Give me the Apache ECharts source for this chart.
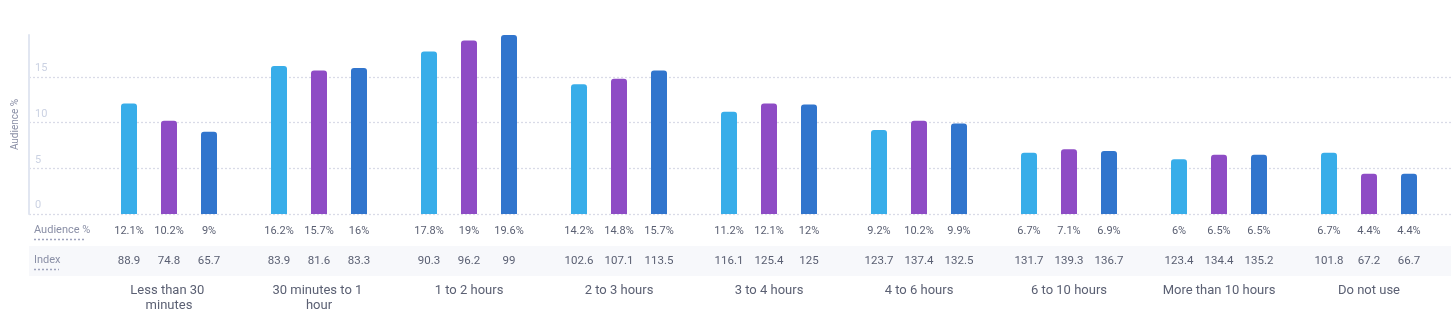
<!DOCTYPE html>
<html><head><meta charset="utf-8">
<style>html,body{margin:0;padding:0;background:#fff}#c{width:1451px;height:326px}</style>
<script src="https://cdn.jsdelivr.net/npm/echarts@6/dist/echarts.min.js"></script>
</head><body><div id="c"></div>
<script>
const categories = ['Less than 30 minutes','30 minutes to 1 hour','1 to 2 hours','2 to 3 hours','3 to 4 hours','4 to 6 hours','6 to 10 hours','More than 10 hours','Do not use'];
const audienceA = [12.1,16.2,17.8,14.2,11.2,9.2,6.7,6,6.7];
const audienceB = [10.2,15.7,19,14.8,12.1,10.2,7.1,6.5,4.4];
const audienceC = [9,16,19.6,15.7,12,9.9,6.9,6.5,4.4];
const indexA = [88.9,83.9,90.3,102.6,116.1,123.7,131.7,123.4,101.8];
const indexB = [74.8,81.6,96.2,107.1,125.4,137.4,139.3,134.4,67.2];
const indexC = [65.7,83.3,99,113.5,125,132.5,136.7,135.2,66.7];
const yTicks = [0,5,10,15];
const rowLabels = ['Audience %','Index'];

const FONT = 'Roboto';
const colors = ['#38ade9','#8e4cc5','#3175cd'];
const yMax = Math.max(...audienceA, ...audienceB, ...audienceC);

function mkSeries(name, aud, idx, color){
  return {
    name, type:'bar', xAxisIndex:1, yAxisIndex:1,
    data: aud, barWidth:16, barGap:'150%',
    itemStyle:{color, borderRadius:[3,3,0,0]},
    label:{
      show:true, position:'bottom', distance:2,
      formatter: p => '{a|' + aud[p.dataIndex] + '%}\n{b|' + idx[p.dataIndex] + '}',
      rich:{
        a:{fontFamily:FONT,fontSize:11,color:'#5b6073',lineHeight:30,align:'center'},
        b:{fontFamily:FONT,fontSize:11.5,color:'#5b6073',lineHeight:30,align:'center'}
      }
    }
  };
}

const chart = echarts.init(document.getElementById('c'), null, {renderer:'canvas'});
chart.setOption({
  animation:false,
  graphic:[
    {type:'rect', z:-10, shape:{x:29,y:246,width:1422,height:30}, style:{fill:'#f7f8fb'}},
    {type:'text', left:34, top:225, style:{text:rowLabels[0], font:'11px '+FONT, fill:'#8a8fa6'}},
    {type:'line', shape:{x1:34,y1:239.5,x2:84,y2:239.5}, style:{stroke:'#9ea3bd', lineWidth:1.5, lineDash:[2,2]}},
    {type:'text', left:34, top:255, style:{text:rowLabels[1], font:'11px '+FONT, fill:'#8a8fa6'}},
    {type:'line', shape:{x1:34,y1:269.5,x2:59,y2:269.5}, style:{stroke:'#9ea3bd', lineWidth:1.5, lineDash:[2,2]}}
  ],
  grid:[
    {left:29, right:0, top:35, bottom:112, containLabel:false},
    {left:94, right:7, top:35, bottom:112, containLabel:false}
  ],
  xAxis:[
    {type:'value', gridIndex:0, show:false, min:0, max:1},
    {type:'category', gridIndex:1, data:categories,
     axisLine:{show:false}, axisTick:{show:false},
     axisLabel:{margin:69, fontFamily:FONT, fontSize:13, color:'#5b6073', lineHeight:15,
       width:118, overflow:'break', interval:0}}
  ],
  yAxis:[
    {type:'value', gridIndex:0, min:0, max:yMax, interval:5,
     name:'Audience %', nameLocation:'middle', nameGap:9,
     nameTextStyle:{fontFamily:FONT, fontSize:10, color:'#8a8fa6'},
     axisLine:{show:true, lineStyle:{color:'#e1e6f1', width:2}},
     axisTick:{show:false},
     axisLabel:{inside:true, margin:6, showMaxLabel:false, fontFamily:FONT, fontSize:11, color:'#cbd2e3',
       verticalAlign:'bottom', padding:[0,0,3,0],
       formatter: v => yTicks.includes(v) ? String(v) : ''},
     splitLine:{show:true, showMaxLine:false, lineStyle:{color:'#d9dbe7', type:[2,2], width:1.3}}
    },
    {type:'value', gridIndex:1, min:0, max:yMax, show:false, splitLine:{show:false}}
  ],
  series:[
    mkSeries('A', audienceA, indexA, colors[0]),
    mkSeries('B', audienceB, indexB, colors[1]),
    mkSeries('C', audienceC, indexC, colors[2])
  ]
});
</script></body></html>
